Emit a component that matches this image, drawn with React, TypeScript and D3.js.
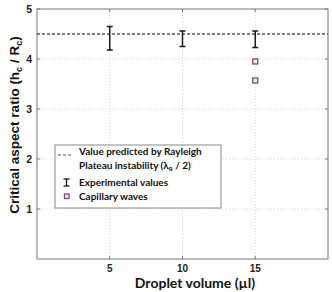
import * as d3 from 'd3';

const xTicks = [5, 10, 15];
const yTicks = [1, 2, 3, 4, 5];
const rayleighValue = 4.5;
const expVolumes = [5, 10, 15];
const expLow = [4.18, 4.25, 4.23];
const expHigh = [4.65, 4.56, 4.56];
const waveVolumes = [15, 15];
const waveValues = [3.95, 3.57];

export default function App() {
  const width = 332;
  const height = 292;
  const margin = { top: 9, right: 4, bottom: 33, left: 37 };
  const x = d3.scaleLinear().domain([0, 20]).range([margin.left, width - margin.right]);
  const y = d3.scaleLinear().domain([0, 5]).range([height - margin.bottom, margin.top]);
  const [x0, x1] = x.range();
  const [y0, y1] = y.range();
  const tickFont = 'Liberation Sans, Arial, sans-serif';
  const lblFont = 'Lato, sans-serif';
  const purple = '#7a4a78';

  return (
    <svg width={width} height={height} style={{ position: 'absolute', left: 0, top: 0, background: '#fff' }}>
      {/* grid */}
      {xTicks.map(t => (
        <line key={'gx' + t} x1={x(t)} x2={x(t)} y1={y1} y2={y0} stroke="#ccc" strokeWidth={0.8} strokeDasharray="1,2" />
      ))}
      {yTicks.slice(0, -1).map(t => (
        <line key={'gy' + t} x1={x0} x2={x1} y1={y(t)} y2={y(t)} stroke="#ccc" strokeWidth={0.8} strokeDasharray="1,2" />
      ))}
      {/* frame */}
      <rect x={x0} y={y1} width={x1 - x0} height={y0 - y1} fill="none" stroke="#777" strokeWidth={1} />
      {/* ticks */}
      {xTicks.map(t => (
        <g key={'tx' + t}>
          <line x1={x(t)} x2={x(t)} y1={y0} y2={y0 - 3} stroke="#777" />
          <line x1={x(t)} x2={x(t)} y1={y1} y2={y1 + 3} stroke="#777" />
          <text x={x(t)} y={y0 + 12.5} textAnchor="middle" fontFamily={tickFont} fontWeight="bold" fontSize={10} fill="#222">{t}</text>
        </g>
      ))}
      {yTicks.map(t => (
        <g key={'ty' + t}>
          <line x1={x0} x2={x0 + 3} y1={y(t)} y2={y(t)} stroke="#777" />
          <line x1={x1} x2={x1 - 3} y1={y(t)} y2={y(t)} stroke="#777" />
          <text x={x0 - 5} y={y(t) + 4} textAnchor="end" fontFamily={tickFont} fontWeight="bold" fontSize={10.5} fill="#222">{t}</text>
        </g>
      ))}
      {/* Rayleigh line */}
      <line x1={x0} x2={x1} y1={y(rayleighValue)} y2={y(rayleighValue)} stroke="#555" strokeWidth={1.3} strokeDasharray="3,2" />
      {/* error bars */}
      {expVolumes.map((v, i) => (
        <g key={'e' + i} stroke="#1a1a1a" strokeWidth={1.5}>
          <line x1={x(v)} x2={x(v)} y1={y(expLow[i])} y2={y(expHigh[i])} />
          <line x1={x(v) - 3} x2={x(v) + 3} y1={y(expLow[i])} y2={y(expLow[i])} />
          <line x1={x(v) - 3} x2={x(v) + 3} y1={y(expHigh[i])} y2={y(expHigh[i])} />
        </g>
      ))}
      {/* capillary waves */}
      {waveVolumes.map((v, i) => (
        <rect key={'w' + i} x={x(v) - 2.5} y={y(waveValues[i]) - 2.5} width={5} height={5} fill="#f4eaf2" stroke={purple} strokeWidth={1.3} />
      ))}
      {/* legend */}
      <g>
        <rect x={55} y={145} width={166} height={63} fill="#fff" stroke="#888" strokeWidth={1} />
        <line x1={58} x2={73} y1={155} y2={155} stroke="#555" strokeWidth={1.2} strokeDasharray="3,2" />
        <g stroke="#1a1a1a" strokeWidth={1.3}>
          <line x1={66.5} x2={66.5} y1={179} y2={186} />
          <line x1={63.5} x2={69.5} y1={179} y2={179} />
          <line x1={63.5} x2={69.5} y1={186} y2={186} />
        </g>
        <rect x={64.5} y={194} width={4.5} height={4.5} fill="#f4eaf2" stroke={purple} strokeWidth={1.3} />
        <g fontFamily={lblFont} fontWeight="bold" fontSize={10} fill="#111">
          <text x={79} y={155}>Value predicted by Rayleigh</text>
          <text x={79} y={169}>Plateau instability (λ<tspan fontSize={6} dy={2}>R</tspan><tspan dy={-2}> / 2)</tspan></text>
          <text x={79} y={186}>Experimental values</text>
          <text x={79} y={200}>Capillary waves</text>
        </g>
      </g>
      {/* axis labels */}
      <text x={195} y={288} textAnchor="middle" fontFamily={lblFont} fontWeight="bold" fontSize={14} fill="#111">Droplet volume (µl)</text>
      <text transform={`translate(19,125) rotate(-90)`} textAnchor="middle" fontFamily={tickFont} fontWeight="bold" fontSize={13.5} fill="#111">
        Critical aspect ratio (h<tspan fontSize={9} dy={3}>c</tspan><tspan dy={-3}> / R</tspan><tspan fontSize={9} dy={3}>c</tspan><tspan dy={-3}>)</tspan>
      </text>
    </svg>
  );
}
